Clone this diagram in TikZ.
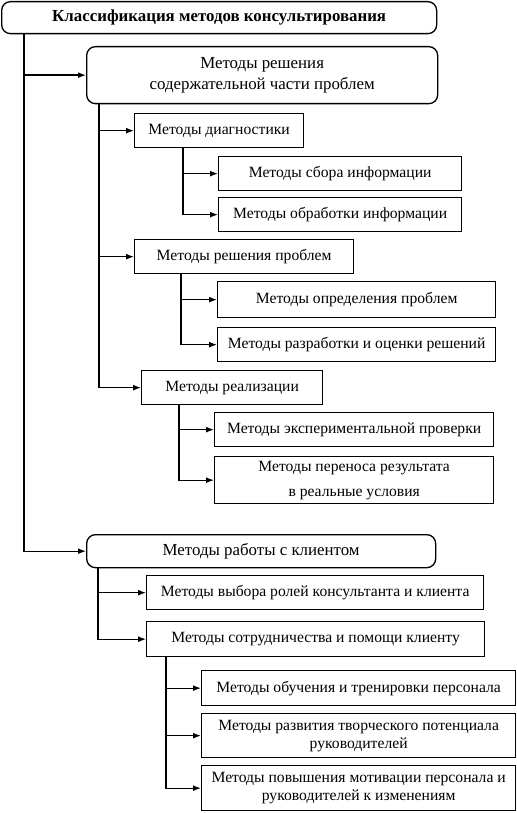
\documentclass[tikz,border=0pt]{standalone}
\usepackage{fontspec}
\setmainfont{Liberation Serif}
\usepackage{tikz}
\usetikzlibrary{arrows.meta, positioning, calc}

\begin{document}
\begin{tikzpicture}[
  box/.style={rectangle, draw=black, line width=0.75pt, fill=white,
    anchor=north west, minimum height=0.68cm, inner sep=1pt,
    font=\fontsize{8.9}{10.2}\selectfont, align=center},
  rbox/.style={box, rounded corners=5pt, font=\fontsize{9.6}{12}\selectfont},
  arr/.style={-{Latex[length=1.6mm,width=1.2mm]}, line width=0.75pt}
]
  \useasboundingbox (0,0) rectangle (10.32,-16.26);

  \node[rbox, minimum width=8.7cm, minimum height=0.64cm,
    font=\fontsize{9.6}{11.5}\selectfont\bfseries] (title) at (0.02,-0.02)
    {Классификация методов консультирования};

  %% first branch
  \node[rbox, minimum width=7.02cm, minimum height=1.14cm] (resh) at (1.72,-0.92)
    {Методы решения\\содержательной части проблем};
  \node[box, minimum width=3.38cm] (diag)  at (2.68,-2.26) {Методы диагностики};
  \node[box, minimum width=4.86cm] (sbor)  at (4.36,-3.12) {Методы сбора информации};
  \node[box, minimum width=4.86cm] (obr)   at (4.36,-3.94) {Методы обработки информации};
  \node[box, minimum width=4.38cm] (reshp) at (2.68,-4.78) {Методы решения проблем};
  \node[box, minimum width=5.56cm, minimum height=0.72cm] (opr) at (4.34,-5.62)
    {Методы определения проблем};
  \node[box, minimum width=5.56cm] (razr)  at (4.34,-6.54) {Методы разработки и оценки решений};
  \node[box, minimum width=3.62cm] (real)  at (2.82,-7.40) {Методы реализации};
  \node[box, minimum width=5.58cm] (eksp)  at (4.28,-8.24) {Методы экспериментальной проверки};
  \node[box, minimum width=5.58cm, minimum height=0.94cm] (pern) at (4.28,-9.12)
    {Методы переноса результата\\[4pt]в реальные условия};

  %% second branch
  \node[rbox, minimum width=6.98cm, minimum height=0.66cm] (klient) at (1.72,-10.68)
    {Методы работы с клиентом};
  \node[box, minimum width=6.74cm] (vyb)   at (2.92,-11.50) {Методы выбора ролей консультанта и клиента};
  \node[box, minimum width=6.76cm, minimum height=0.70cm] (sotr) at (2.92,-12.42)
    {Методы сотрудничества и помощи клиенту};
  \node[box, minimum width=6.28cm, minimum height=0.70cm] (obuch) at (4.02,-13.40)
    {Методы обучения и тренировки персонала};
  \node[box, minimum width=6.28cm, minimum height=0.88cm] (razv) at (4.02,-14.26)
    {Методы развития творческого потенциала\\руководителей};
  \node[box, minimum width=6.28cm, minimum height=0.90cm] (motiv) at (4.02,-15.30)
    {Методы повышения мотивации персонала и\\руководителей к изменениям};

  %% trunks
  \coordinate (t0) at ([xshift=0.46cm]title.south west);
  \coordinate (t1) at ([xshift=0.26cm]resh.south west);
  \coordinate (t2) at ([xshift=0.98cm]diag.south west);
  \coordinate (t3) at ([xshift=0.94cm]reshp.south west);
  \coordinate (t4) at ([xshift=0.76cm]real.south west);
  \coordinate (t5) at ([xshift=0.24cm]klient.south west);
  \coordinate (t6) at ([xshift=0.40cm]sotr.south west);

  \draw[arr] (t0) |- (resh.west);
  \draw[arr] (t0) |- (klient.west);

  \draw[arr] (t1) |- (diag.west);
  \draw[arr] (t1) |- (reshp.west);
  \draw[arr] (t1) |- (real.west);

  \draw[arr] (t2) |- (sbor.west);
  \draw[arr] (t2) |- (obr.west);
  \draw[arr] (t3) |- (opr.west);
  \draw[arr] (t3) |- (razr.west);
  \draw[arr] (t4) |- (eksp.west);
  \draw[arr] (t4) |- (pern.west);

  \draw[arr] (t5) |- (vyb.west);
  \draw[arr] (t5) |- (sotr.west);
  \draw[arr] (t6) |- (obuch.west);
  \draw[arr] (t6) |- (razv.west);
  \draw[arr] (t6) |- (motiv.west);
\end{tikzpicture}
\end{document}
